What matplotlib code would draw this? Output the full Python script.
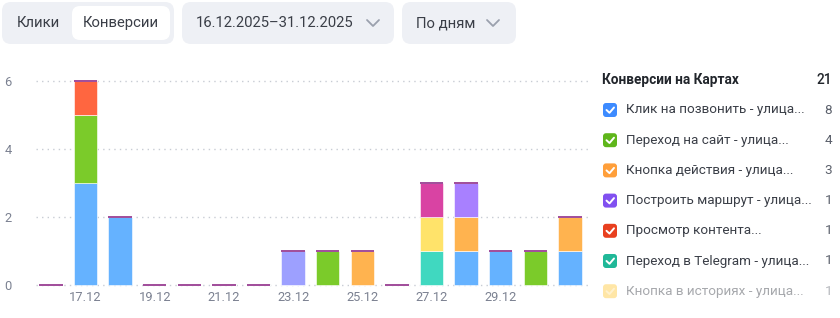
import matplotlib.pyplot as plt
import numpy as np
from matplotlib.patches import FancyBboxPatch

plt.rcParams['font.family'] = ['Roboto', 'DejaVu Sans']

days = ['16.12', '17.12', '18.12', '19.12', '20.12', '21.12', '22.12', '23.12',
        '24.12', '25.12', '26.12', '27.12', '28.12', '29.12', '30.12', '31.12']
tick_days = ['17.12', '19.12', '21.12', '23.12', '25.12', '27.12', '29.12']

# stacked series, bottom to top
call_click = [0, 3, 2, 0, 0, 0, 0, 0, 0, 0, 0, 0, 1, 1, 0, 1]
site_visit = [0, 2, 0, 0, 0, 0, 0, 0, 1, 0, 0, 0, 0, 0, 1, 0]
action_btn = [0, 0, 0, 0, 0, 0, 0, 0, 0, 1, 0, 0, 1, 0, 0, 1]
telegram = [0, 0, 0, 0, 0, 0, 0, 0, 0, 0, 0, 1, 0, 0, 0, 0]
stories_btn = [0, 0, 0, 0, 0, 0, 0, 0, 0, 0, 0, 1, 0, 0, 0, 0]
route = [0, 0, 0, 0, 0, 0, 0, 0, 0, 0, 0, 0, 1, 0, 0, 0]
content_view = [0, 1, 0, 0, 0, 0, 0, 0, 0, 0, 0, 0, 0, 0, 0, 0]
other_pink = [0, 0, 0, 0, 0, 0, 0, 0, 0, 0, 0, 1, 0, 0, 0, 0]
other_lav = [0, 0, 0, 0, 0, 0, 0, 1, 0, 0, 0, 0, 0, 0, 0, 0]

series = [
    (call_click, '#65b2ff'),
    (site_visit, '#7bcb2a'),
    (action_btn, '#ffb34f'),
    (telegram, '#40d8c0'),
    (stories_btn, '#ffe36a'),
    (route, '#a880ff'),
    (content_view, '#ff6640'),
    (other_pink, '#d943a3'),
    (other_lav, '#9da0ff'),
]

legend_title = 'Конверсии на Картах'
legend_total = 21
legend_names = ['Клик на позвонить - улица...', 'Переход на сайт - улица...',
                'Кнопка действия - улица...', 'Построить маршрут - улица...',
                'Просмотр контента...', 'Переход в Telegram - улица...',
                'Кнопка в историях - улица...']
legend_counts = [8, 4, 3, 1, 1, 1, 1]
legend_colors = ['#3d8bff', '#5fb61b', '#ff9f3a', '#8150f0', '#e8401f', '#20b898', '#ffc93a']

W, H = 840, 318
fig = plt.figure(figsize=(W / 100, H / 100), dpi=100)

# overlay in pixel coordinates for the controls and legend
ov = fig.add_axes([0, 0, 1, 1])
ov.set_xlim(0, W)
ov.set_ylim(H, 0)
ov.axis('off')

def box(x0, y0, x1, y1, fc, r=9):
    ov.add_patch(FancyBboxPatch((x0 + r, y0 + r), x1 - x0 - 2 * r, y1 - y0 - 2 * r,
                                boxstyle=f'round,pad={r}', fc=fc, ec='none'))

def chevron(cx, cy):
    ov.plot([cx - 6, cx, cx + 6], [cy - 3, cy + 3, cy - 3], color='#9aa0ad', lw=1.3,
            solid_capstyle='round')

box(2, 2, 174, 44, '#eef0f5')
box(72, 6, 170, 40, 'white', r=8)
ov.text(38, 23, 'Клики', fontsize=10.7, color='#3a3e47', ha='center', va='center')
ov.text(121, 23, 'Конверсии', fontsize=10.7, color='#3a3e47', ha='center', va='center')

box(182, 2, 394, 44, '#eef0f5')
ov.text(196, 23, '16.12.2025–31.12.2025', fontsize=10.7, color='#3a3e47', va='center')
chevron(373, 23)

box(402, 2, 516, 44, '#eef0f5')
ov.text(416, 23, 'По дням', fontsize=10.7, color='#3a3e47', va='center')
chevron(493, 23)

# legend
ov.text(602, 80, legend_title, fontsize=9.8, fontweight='bold', color='#21252b', va='center')
ov.text(832, 80, str(legend_total), fontsize=9.8, fontweight='medium', color='#21252b',
        va='center', ha='right')
for i, (name, cnt, col) in enumerate(zip(legend_names, legend_counts, legend_colors)):
    y = 110 + i * 30.2
    a = 0.45 if i == len(legend_names) - 1 else 1
    box(603, y - 7, 617, y + 7, col, r=3)
    ov.patches[-1].set_alpha(a)
    ov.plot([606.5, 609.5, 614], [y, y + 2.8, y - 2.5], color='white', lw=1.4,
            solid_capstyle='round', alpha=a)
    ov.text(626, y, name, fontsize=9.7, color='#3a3e47', va='center', alpha=a)
    ov.text(832, y, str(cnt), fontsize=9.7, color='#5b606b', va='center', ha='right', alpha=a)

# chart
ax = fig.add_axes([36 / W, 1 - 290 / H, 554 / W, 215 / H])
x = np.arange(len(days))
bottom = np.zeros(len(days))
for vals, col in series:
    v = np.array(vals, dtype=float)
    ax.bar(x, v, 0.68, bottom=bottom, color=col, edgecolor='white', linewidth=0.4, zorder=2)
    bottom += v
ax.bar(x, 0.07, 0.68, bottom=bottom - 0.03, color='#a2509c', zorder=3)

ax.set_xlim(-0.43, 15.58)
ax.set_ylim(-0.147, 6.18)
ax.set_yticks([0, 2, 4, 6])
ax.set_xticks([days.index(d) for d in tick_days])
ax.set_xticklabels(tick_days)
ax.tick_params(length=0, labelsize=9.3, labelcolor='#7b8191')
ax.tick_params(axis='y', pad=20)
ax.tick_params(axis='x', pad=1)
for t in ax.get_yticklabels():
    t.set_ha('center')
ax.grid(axis='y', linestyle=(0, (1, 3)), color='#c8ccd4', lw=1, zorder=0)
for s in ax.spines.values():
    s.set_visible(False)

fig.savefig('out.png', dpi=100)
